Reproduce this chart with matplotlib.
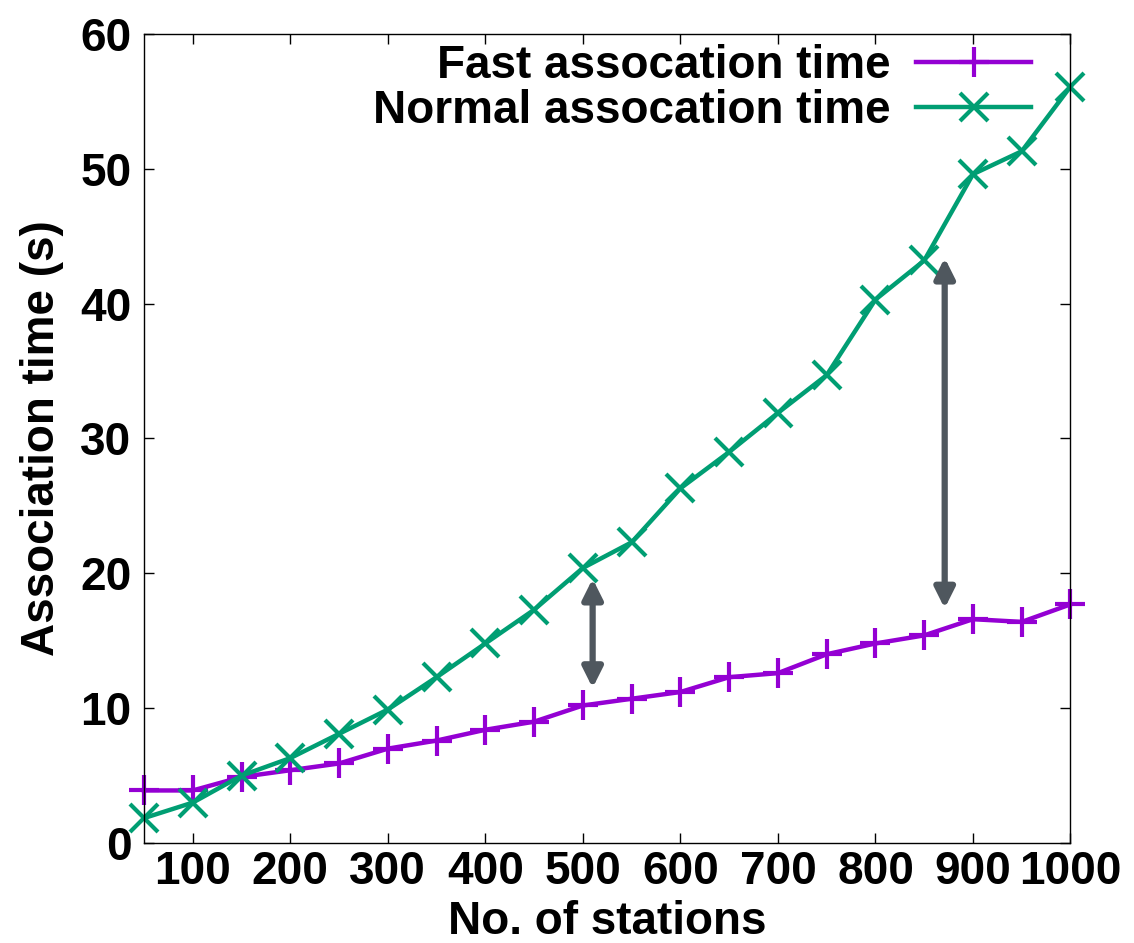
import matplotlib
matplotlib.use("Agg")
import matplotlib.pyplot as plt

#%% --- Data ---

stations = [50, 100, 150, 200, 250, 300, 350, 400, 450, 500,
            550, 600, 650, 700, 750, 800, 850, 900, 950, 1000]

fast_time = [3.9, 3.9, 4.9, 5.4, 5.9, 7.0, 7.6, 8.4, 9.0, 10.2,
             10.7, 11.2, 12.3, 12.6, 14.0, 14.8, 15.4, 16.6, 16.4, 17.7]

normal_time = [1.85, 3.0, 5.0, 6.3, 8.1, 9.9, 12.3, 14.8, 17.3, 20.4,
               22.3, 26.3, 29.0, 31.9, 34.7, 40.3, 43.2, 49.6, 51.3, 56.1]

# gap arrows: (x, low, high)
gap_arrows = [(510, 11.5, 19.6), (871, 17.4, 43.4)]

#%% --- Style ---

plt.rcParams["font.family"] = ["Liberation Sans", "DejaVu Sans"]
plt.rcParams["font.weight"] = "bold"

fig = plt.figure(figsize = (11.34, 9.43), dpi = 100)
ax = fig.add_axes([0.127, 0.106, 0.817, 0.858])

#%% --- Plot the data ---

ax.plot(stations, fast_time,
        color = "#9400D3",
        linewidth = 3.2,
        marker = "+",
        markersize = 22,
        markeredgewidth = 3,
        clip_on = False,
        label = "Fast assocation time")

ax.plot(stations, normal_time,
        color = "#009E73",
        linewidth = 3.2,
        marker = "x",
        markersize = 20,
        markeredgewidth = 3,
        clip_on = False,
        label = "Normal assocation time")

for x, low, high in gap_arrows:
    ax.annotate("", xy = (x, high), xytext = (x, low),
                arrowprops = dict(arrowstyle = "<|-|>",
                                  color = "#4f575e",
                                  lw = 4.5,
                                  mutation_scale = 30,
                                  shrinkA = 0, shrinkB = 0))

#%% --- Axes ---

ax.set_xlim(50, 1000)
ax.set_ylim(0, 60)
ax.set_xticks(range(100, 1001, 100))
ax.set_yticks(range(0, 61, 10))

ax.tick_params(direction = "in", length = 7, width = 1,
               top = True, right = True, labelsize = 33)
ax.tick_params(axis = "x", pad = 5)
ax.tick_params(axis = "y", pad = 9)
for label in ax.get_xticklabels() + ax.get_yticklabels():
    label.set_fontweight("bold")

for spine in ax.spines.values():
    spine.set_linewidth(1)

ax.set_xlabel("No. of stations", fontsize = 33, fontweight = "bold", labelpad = 4)
ax.set_ylabel("Association time (s)", fontsize = 33, fontweight = "bold", labelpad = 12)

#%% --- Legend ---

ax.legend(loc = "upper right",
          bbox_to_anchor = (0.977, 1.01),
          borderaxespad = 0,
          frameon = False,
          markerfirst = False,
          handlelength = 2.5,
          handletextpad = 0.57,
          labelspacing = 0.02,
          prop = {"weight": "bold", "size": 33})

fig.savefig("out.png", dpi = 100)
